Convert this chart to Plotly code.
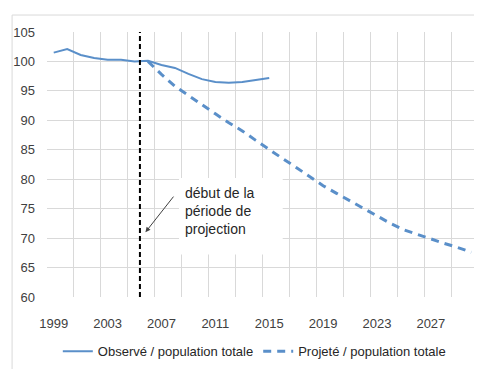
import plotly.graph_objects as go

# Observed series (index, 2006 = 100), 1999-2015
OBS_YEARS = list(range(1999, 2016))
OBS_VALUES = [101.5, 102.1, 101.1, 100.6, 100.3, 100.3, 100.0, 100.1, 99.4,
              98.9, 97.9, 97.0, 96.5, 96.4, 96.5, 96.9, 97.2]

# Projected series, 2006-2030
PROJ_YEARS = list(range(2006, 2031))
PROJ_VALUES = [100.0, 97.8, 95.8, 94.2, 92.7, 91.1, 89.6, 88.2, 86.6, 85.0,
               83.5, 82.0, 80.5, 78.9, 77.6, 76.3, 75.0, 73.7, 72.5, 71.4,
               70.6, 69.8, 69.1, 68.4, 67.6]

X_TICKS = [1999, 2003, 2007, 2011, 2015, 2019, 2023, 2027]
Y_TICKS = [60, 65, 70, 75, 80, 85, 90, 95, 100, 105]
PROJECTION_START = 2005.4

BLUE = "#5a8fc9"
FONT = "Liberation Sans, Arial"

fig = go.Figure()
fig.add_trace(go.Scatter(
    x=OBS_YEARS, y=OBS_VALUES, mode="lines",
    name="Observé / population totale",
    line=dict(color=BLUE, width=2),
))
fig.add_trace(go.Scatter(
    x=PROJ_YEARS, y=PROJ_VALUES, mode="lines",
    name="Projeté / population totale",
    line=dict(color=BLUE, width=3, dash="8px,6px"),
))

# start of projection period
fig.add_shape(type="line", x0=PROJECTION_START, x1=PROJECTION_START, y0=60, y1=105,
              line=dict(color="black", width=2, dash="5px,3px"))
# white label box hiding the grid
fig.add_shape(type="rect", x0=2008.3, x1=2016.0, y0=67.2, y1=80.2,
              fillcolor="white", line=dict(width=0), layer="between")
fig.add_annotation(x=2008.6, y=79.4, xanchor="left", yanchor="top", align="left",
                   text="début de la<br>période de<br>projection", showarrow=False,
                   font=dict(family=FONT, size=14, color="#262626"))
fig.add_annotation(x=2005.81, y=71.0, ax=2007.98, ay=77.3, axref="x", ayref="y",
                   text="", showarrow=True, arrowhead=2, arrowsize=1,
                   arrowwidth=1, arrowcolor="#404040")

# outer chart border (top & left edges visible)
fig.add_shape(type="line", xref="paper", yref="paper", x0=-0.081, x1=1.05,
              y0=1.064, y1=1.064, line=dict(color="#d9d9d9", width=1))
fig.add_shape(type="line", xref="paper", yref="paper", x0=-0.081, x1=-0.081,
              y0=1.064, y1=-0.3, line=dict(color="#d9d9d9", width=1))

fig.update_xaxes(
    range=[1998.5, 2030.5], tickvals=X_TICKS, showgrid=False, zeroline=False,
    ticks="", ticklabelstandoff=17,
    tickfont=dict(family=FONT, size=13, color="#404040"),
    minor=dict(tickvals=[1998.5 + 2 * i for i in range(17)], showgrid=True,
               gridcolor="#d9d9d9", gridwidth=1),
)
fig.update_yaxes(
    range=[60, 105], tickvals=Y_TICKS, showgrid=True, gridcolor="#d9d9d9",
    zeroline=False, ticks="", ticklabelstandoff=11,
    tickfont=dict(family=FONT, size=13, color="#404040"),
)

# page body has an 8px margin, so the figure is 8px smaller than the window
fig.update_layout(
    width=474, height=361,
    template="plotly_white",
    plot_bgcolor="white", paper_bgcolor="white",
    margin=dict(l=39, r=4, t=24, b=71),
    showlegend=True,
    legend=dict(orientation="h", x=0.481, xanchor="center", y=-0.2, yanchor="middle",
                font=dict(family=FONT, size=13, color="#262626"),
                itemwidth=30),
)

fig.write_html("out.html")
